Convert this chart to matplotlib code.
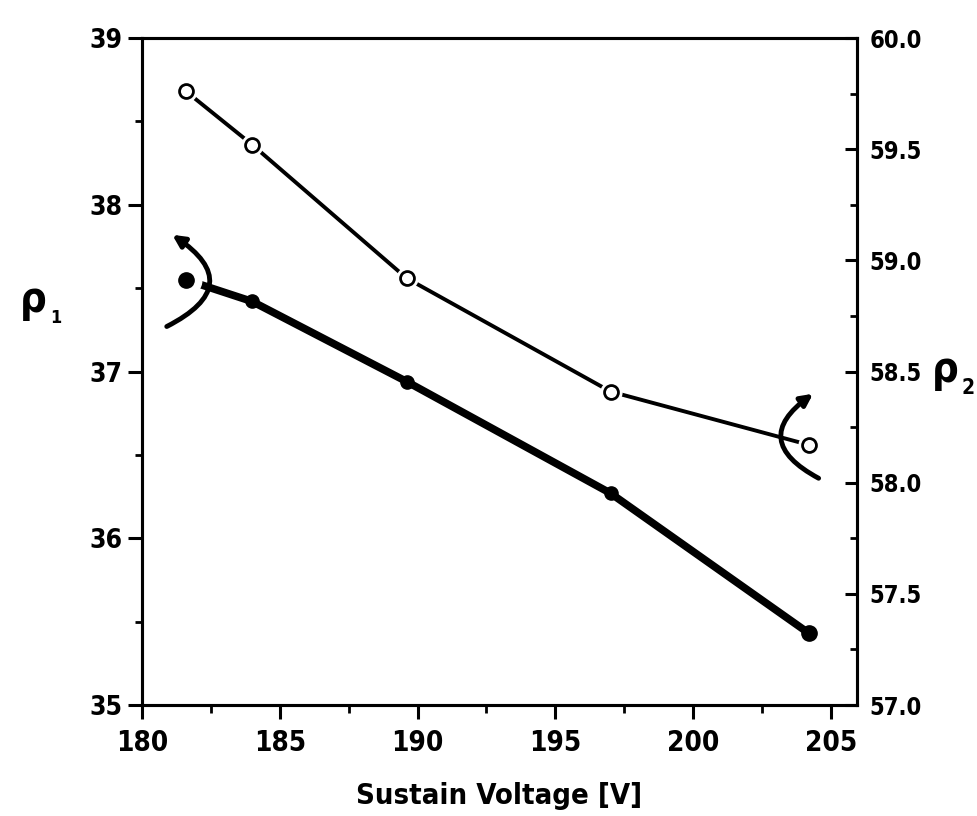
import matplotlib
matplotlib.use("Agg")
import matplotlib.pyplot as plt
from matplotlib.ticker import MultipleLocator

# Data
voltage = [181.6, 184.0, 189.6, 197.0, 204.2]
rho1 = [37.55, 37.42, 36.94, 36.27, 35.43]
rho2 = [59.76, 59.52, 58.92, 58.41, 58.17]

xticks = [180, 185, 190, 195, 200, 205]
y1ticks = [35, 36, 37, 38, 39]
y2ticks = [57.0, 57.5, 58.0, 58.5, 59.0, 59.5, 60.0]
xlabel = "Sustain Voltage [V]"

plt.rcParams['font.family'] = ['DejaVu Sans']
plt.rcParams['font.stretch'] = 'condensed'

fig = plt.figure(figsize=(9.77, 8.16), dpi=100)
ax = fig.add_axes([0.1453, 0.136, 0.7318, 0.8174])
ax2 = ax.twinx()

ax.set_xlim(180, 205.94)
ax.set_ylim(35, 39)
ax2.set_ylim(57.0, 60.0)

# rho1 (filled)
ax.plot(voltage, rho1, color='black', lw=5.5, solid_capstyle='round',
        solid_joinstyle='round', zorder=3)
ax.plot([voltage[0]], [rho1[0]], 'o', ms=22, color='white', zorder=4)
ax.plot(voltage, rho1, 'o', color='black', ms=9.5, zorder=5)
ax.plot([voltage[0], voltage[-1]], [rho1[0], rho1[-1]], 'o', color='black', ms=11, zorder=5)

# rho2 (open)
ax2.plot(voltage, rho2, color='black', lw=2.8, solid_joinstyle='round', zorder=3)
ax2.plot(voltage, rho2, 'o', ms=15, color='white', zorder=4)
ax2.plot(voltage, rho2, 'o', ms=10, mfc='white', mec='black', mew=2, zorder=5)

# arcs with arrows
ax.annotate('', xy=(181.1, 37.82), xytext=(180.9, 37.27),
            arrowprops=dict(arrowstyle='-|>,head_length=0.7,head_width=0.35', lw=3.5,
                            color='black', connectionstyle='arc3,rad=0.85',
                            shrinkA=0, shrinkB=0), zorder=6)
ax2.annotate('', xy=(204.35, 58.40), xytext=(204.55, 58.02),
             arrowprops=dict(arrowstyle='-|>,head_length=0.7,head_width=0.35', lw=3.5,
                             color='black', connectionstyle='arc3,rad=-0.8',
                             shrinkA=0, shrinkB=0), zorder=6)

# axes styling
for a in (ax, ax2):
    for s in a.spines.values():
        s.set_linewidth(2.2)

ax.set_xticks(xticks)
ax.set_yticks(y1ticks)
ax.xaxis.set_minor_locator(MultipleLocator(2.5))
ax.yaxis.set_minor_locator(MultipleLocator(0.5))
ax.tick_params(axis='x', which='major', direction='out', length=10, width=2.2, labelsize=20, pad=7)
ax.tick_params(axis='x', which='minor', direction='out', length=6, width=2)
ax.tick_params(axis='y', which='major', direction='out', length=10, width=2.2, labelsize=19, pad=4)
ax.tick_params(axis='y', which='minor', direction='out', length=5, width=2)

ax2.set_yticks(y2ticks)
ax2.set_yticklabels([f"{v:.1f}" for v in y2ticks])
ax2.yaxis.set_minor_locator(MultipleLocator(0.25))
ax2.tick_params(axis='y', which='major', direction='in', length=9, width=2.2, labelsize=17, pad=9)
ax2.tick_params(axis='y', which='minor', direction='in', length=5, width=2)

for lab in ax.get_xticklabels() + ax.get_yticklabels() + ax2.get_yticklabels():
    lab.set_fontweight('bold')

ax.set_xlabel(xlabel, fontsize=21, fontweight='bold', labelpad=18)

# axis labels rho1 / rho2
fig.text(0.020, 0.632, 'ρ', fontsize=30, fontweight='bold', va='center', ha='left')
fig.text(0.051, 0.610, '1', fontsize=13, fontweight='bold', va='center', ha='left')
fig.text(0.954, 0.546, 'ρ', fontsize=30, fontweight='bold', va='center', ha='left')
fig.text(0.984, 0.524, '2', fontsize=15, fontweight='bold', va='center', ha='left')

fig.savefig('out.png', dpi=100)
